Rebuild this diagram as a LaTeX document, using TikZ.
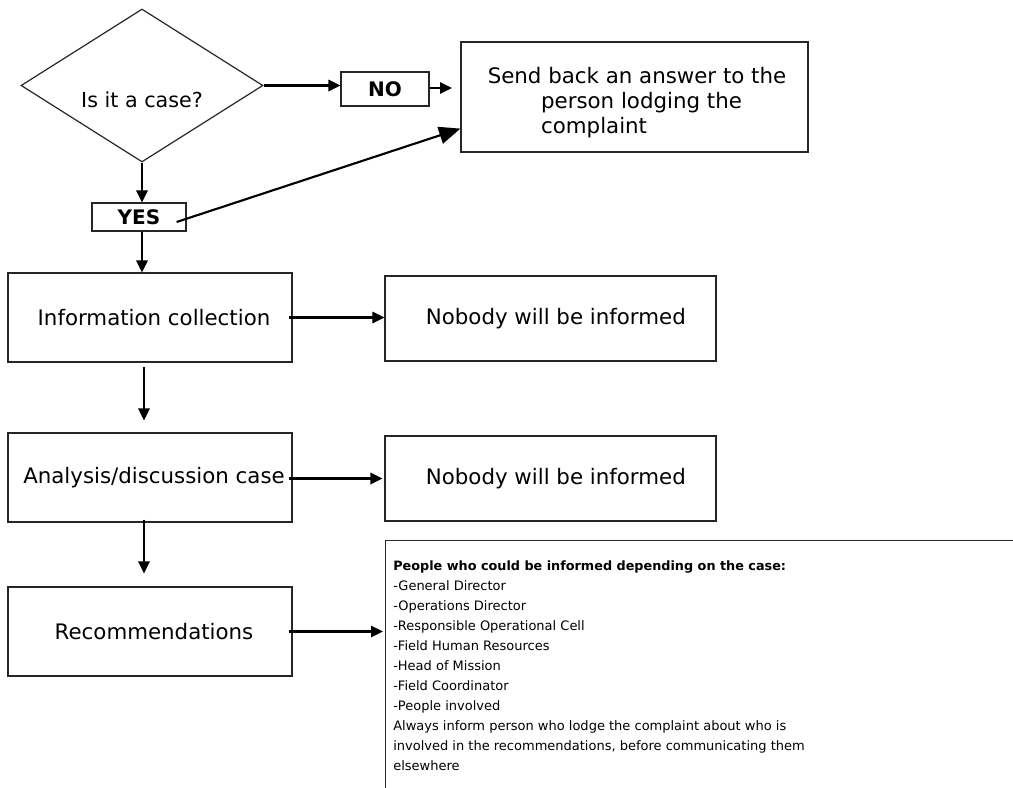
\documentclass[tikz,border=0pt]{standalone}
\usepackage{fontspec}
\setmainfont{DejaVu Sans}
\usetikzlibrary{shapes.geometric,arrows.meta,calc}
\tikzset{
  box/.style={draw=black!85, line width=0.9pt, rectangle, inner sep=0pt, font=\fontsize{16pt}{19pt}\selectfont},
  lbl/.style={draw=black!85, line width=0.9pt, rectangle, inner sep=0pt, font=\fontsize{15pt}{18pt}\selectfont\bfseries},
  arr/.style={line width=1.6pt, -{Triangle[length=9pt,width=8.5pt]}},
  bigarr/.style={line width=1.6pt, -{Triangle[length=16pt,width=13pt]}},
}
\begin{document}
\begin{tikzpicture}[x=0.75pt,y=-0.75pt]
\clip (0,0) rectangle (1013,788);
% diamond
\node (d) [diamond, draw=black!85, line width=0.9pt, inner sep=0pt, minimum width=181.5pt, minimum height=114.75pt] at (142,85.5) {};
\node (dq) [font=\fontsize{15.5pt}{18pt}\selectfont] at (142,100) {Is it a case?};
% NO / YES
\node (no) [lbl, minimum width=66pt, minimum height=25.5pt] at (385,89) {NO};
\node (yes) [lbl, minimum width=70.5pt, minimum height=21pt] at (139,217) {YES};
% send back
\node (send) [box, minimum width=260.25pt, minimum height=82.5pt] at (634.5,97) {};
\node (sendtxt) [font=\fontsize{16pt}{18.75pt}\selectfont, align=left, inner sep=0pt] at (637,103) {Send back an answer to the\\\hspace*{40pt}person lodging the\\\hspace*{40pt}complaint};
% left column
\node (info) [box, minimum width=213pt, minimum height=66.75pt] at (150,317.5) {\hspace*{6pt}Information collection};
\node (ana) [box, minimum width=213pt, minimum height=66.75pt] at (150,477.5) {\hspace*{6pt}Analysis/discussion case};
\node (rec) [box, minimum width=213pt, minimum height=66.75pt] at (150,631.5) {\hspace*{6pt}Recommendations};
% right column
\node (nb1) [box, minimum width=248.25pt, minimum height=63.75pt] at (550.5,318.5) {\hspace*{8pt}Nobody will be informed};
\node (nb2) [box, minimum width=248.25pt, minimum height=63.75pt] at (550.5,478.5) {\hspace*{8pt}Nobody will be informed};
\node (big) [draw=black!85, line width=0.9pt, rectangle, anchor=north west, inner sep=0pt, minimum width=495pt, minimum height=202.5pt] at (385,540) {};
\node (bigtext) [anchor=north west, inner sep=0pt, align=left, font=\fontsize{9.75pt}{15pt}\selectfont] at (393,560) {{\fontsize{9.6pt}{15pt}\selectfont\textbf{People who could be informed depending on the case:}}\\
-General Director\\
-Operations Director\\
-Responsible Operational Cell\\
-Field Human Resources\\
-Head of Mission\\
-Field Coordinator\\
-People involved\\
Always inform person who lodge the complaint about who is\\
involved in the recommendations, before communicating them\\
elsewhere};
% connectors
\coordinate (noend) at (452,88);
\draw[arr] (d.east) -- (d.east -| no.west);
\draw[arr] (no.east |- noend) -- (noend);
\draw[arr] (d.south) -- (d.south |- yes.north);
\draw[bigarr] ($(yes.east)+(-10,5)$) -- ($(send.south west)+(0,-24)$);
\draw[arr] (d.south |- yes.south) -- (d.south |- info.north);
\draw[arr] ($(info.east)+(-4,0)$) -- (nb1.west |- info.east);
\draw[arr] ($(info.south)+(-6,4)$) -- ($(ana.north)+(-6,-12)$);
\draw[arr] ($(ana.east)+(-4,1)$) -- ($(nb2.west |- ana.east)+(-2,1)$);
\draw[arr] ($(ana.south)+(-6,-3)$) -- ($(rec.north)+(-6,-13)$);
\draw[arr] ($(rec.east)+(-4,0)$) -- ($(big.west |- rec.east)+(-2,0)$);
\end{tikzpicture}
\end{document}
